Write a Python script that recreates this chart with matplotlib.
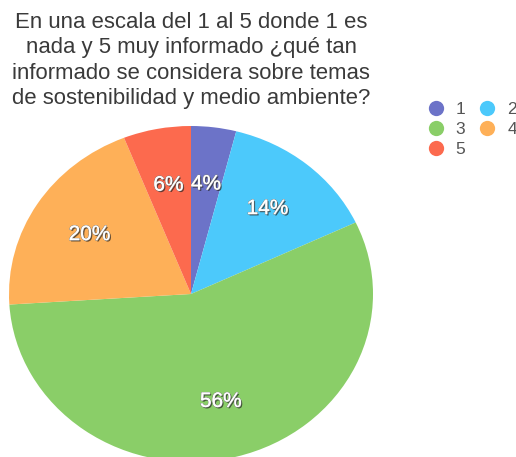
import matplotlib
matplotlib.use("Agg")
import matplotlib.pyplot as plt
import matplotlib.patheffects as pe
from matplotlib.lines import Line2D

plt.rcParams['font.family'] = ['Liberation Sans', 'DejaVu Sans']

# answers on the 1-5 scale and their share of responses
categories = ["1", "2", "3", "4", "5"]
shares = [4, 14, 56, 20, 6]
colors = ["#6C73C8", "#4CC9FB", "#8ACE68", "#FEB058", "#FC6A4E"]
title = ("En una escala del 1 al 5 donde 1 es\n"
         "nada y 5 muy informado ¿qué tan\n"
         "informado se considera sobre temas\n"
         "de sostenibilidad y medio ambiente?")

W, H = 516, 457
fig = plt.figure(figsize=(W / 100, H / 100), dpi=100)

# pie is a bit wider than tall, and runs past the bottom edge
cx, cy, rx, ry = 191, 294, 182, 168
ax = fig.add_axes([(cx - rx) / W, (H - cy - ry) / H, 2 * rx / W, 2 * ry / H])
wedges, texts, autotexts = ax.pie(
    shares, colors=colors, startangle=90, counterclock=False,
    autopct="%d%%", pctdistance=0.66,
    wedgeprops=dict(linewidth=0),
    textprops=dict(color="white", fontsize=15))
ax.set_aspect("auto")
ax.set_xlim(-1, 1)
ax.set_ylim(-1, 1)
ax.axis("off")

for t in autotexts:
    t.set_path_effects([
        pe.SimplePatchShadow(offset=(1, -1), shadow_rgbFace="#222222", alpha=0.7),
        pe.withStroke(linewidth=0.8, foreground="#888888"),
        pe.Normal()])

fig.text(cx / W, 1 - 12 / H, title, ha="center", va="top",
         fontsize=15.9, color="#3a3a3a", linespacing=1.28)

# legend laid out row by row: 1 2 / 3 4 / 5
handles = [Line2D([], [], marker="o", linestyle="", markersize=11,
                  markerfacecolor=c, markeredgewidth=0) for c in colors]
order = [0, 2, 4, 1, 3]
fig.legend([handles[i] for i in order], [categories[i] for i in order],
           loc="upper left", bbox_to_anchor=(428 / W, 1 - 102 / H),
           ncol=2, frameon=False, fontsize=12.5, labelcolor="#555555",
           borderpad=0, borderaxespad=0, handlelength=0.9, handletextpad=0.7,
           columnspacing=0.8, labelspacing=0.27)

fig.savefig("out.png", dpi=100)
